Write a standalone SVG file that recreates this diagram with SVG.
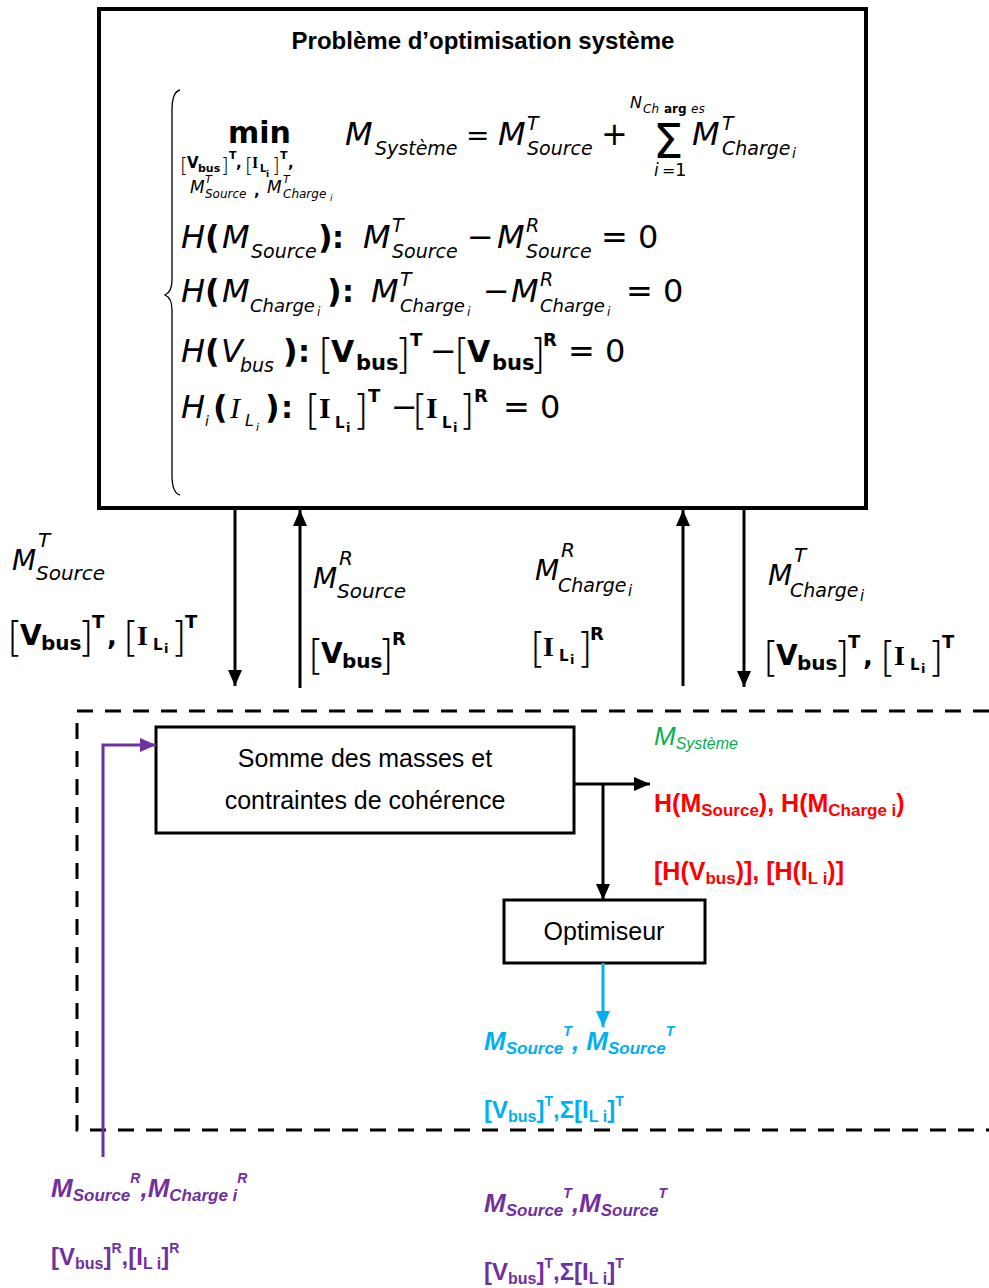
<svg xmlns="http://www.w3.org/2000/svg" width="989" height="1288" viewBox="0 0 989 1288">
<style>
.mi{font-family:"DejaVu Sans",sans-serif;font-style:italic}
.ms{font-family:"DejaVu Sans",sans-serif;font-style:italic}
.mr{font-family:"DejaVu Sans",sans-serif}
.mb{font-family:"DejaVu Sans",sans-serif;font-weight:bold}
.br{font-family:"DejaVu Sans",sans-serif;font-weight:300}
.se{font-family:"Liberation Serif",serif;font-weight:bold}
.si{font-family:"Liberation Serif",serif;font-style:italic}
.lb{font-family:"Liberation Sans",sans-serif;font-weight:bold}
.lr{font-family:"Liberation Sans",sans-serif}
.red{fill:#FF0000}.blue{fill:#00B0F0}.pur{fill:#7030A0}.grn{fill:#00B050}
.box{fill:#fff;stroke:#000;stroke-width:3}
</style>
<defs>
<marker id="ah" markerWidth="16" markerHeight="14" refX="16" refY="7" orient="auto" markerUnits="userSpaceOnUse"><path d="M0,0 L16,7 L0,14 z" fill="#000"/></marker>
<marker id="ahb" markerWidth="16" markerHeight="14" refX="16" refY="7" orient="auto" markerUnits="userSpaceOnUse"><path d="M0,0 L16,7 L0,14 z" fill="#00B0F0"/></marker>
<marker id="ahp" markerWidth="16" markerHeight="14" refX="16" refY="7" orient="auto" markerUnits="userSpaceOnUse"><path d="M0,0 L16,7 L0,14 z" fill="#7030A0"/></marker>
</defs>

<g id="probleme">
<rect x="99" y="9" width="767" height="499" fill="#fff" stroke="#000" stroke-width="4"/>
<text x="483" y="49" text-anchor="middle" class="lb" font-size="24">Problème d’optimisation système</text>
<path d="M180,90 Q172,92 172,110 L172,280 Q172,292 165,295 Q172,298 172,310 L172,475 Q172,493 180,495" fill="none" stroke="#000" stroke-width="1.3"/>
<!-- line 1 -->
<text x="228" y="143" class="mb" font-size="30">min</text>
<text x="180" y="172" class="br" font-size="20">[</text>
<text x="187" y="168" class="mb" font-size="15">V</text>
<text x="198" y="172" class="mb" font-size="11">bus</text>
<text x="221" y="172" class="br" font-size="20">]</text>
<text x="229" y="159" class="mb" font-size="11">T</text>
<text x="236" y="168" class="mb" font-size="15">,</text>
<text x="245" y="172" class="br" font-size="20">[</text>
<text x="252" y="168" class="se" font-size="16">I</text>
<text x="260" y="172" class="mb" font-size="10">L</text>
<text x="266" y="177" class="mb" font-size="9">i</text>
<text x="272" y="172" class="br" font-size="20">]</text>
<text x="280" y="159" class="mb" font-size="11">T</text>
<text x="288" y="168" class="mb" font-size="15">,</text>
<text x="190" y="193" class="mi" font-size="17">M</text>
<text x="205" y="183" class="ms" font-size="11">T</text>
<text x="205" y="198" class="ms" font-size="12">Source</text>
<text x="254" y="196" class="mb" font-size="15">,</text>
<text x="267" y="193" class="mi" font-size="17">M</text>
<text x="283" y="183" class="ms" font-size="11">T</text>
<text x="283" y="198" class="ms" font-size="12">Charge</text>
<text x="330" y="201" class="ms" font-size="9">i</text>
<text x="345" y="145" class="mi" font-size="32">M</text>
<text x="375" y="155" class="ms" font-size="19">Système</text>
<text x="466" y="145" class="mr" font-size="28">=</text>
<text x="498" y="145" class="mi" font-size="32">M</text>
<text x="527" y="130" class="ms" font-size="19">T</text>
<text x="527" y="155" class="ms" font-size="19">Source</text>
<text x="601" y="145" class="mr" font-size="32">+</text>
<text x="653" y="158" class="mr" font-size="48">Σ</text>
<text x="630" y="108" class="ms" font-size="16">N</text>
<text x="643" y="113" class="ms" font-size="12">Ch</text>
<text x="664" y="113" class="mb" font-size="12">arg</text>
<text x="691" y="113" class="ms" font-size="12">es</text>
<text x="654" y="176" class="ms" font-size="17">i</text>
<text x="662" y="176" class="mr" font-size="16">=</text>
<text x="675" y="176" class="mr" font-size="18">1</text>
<text x="692" y="145" class="mi" font-size="32">M</text>
<text x="722" y="130" class="ms" font-size="19">T</text>
<text x="722" y="155" class="ms" font-size="19">Charge</text>
<text x="792" y="158" class="ms" font-size="14">i</text>
<!-- line 2 -->
<text x="181" y="248" class="mi" font-size="32">H</text>
<text x="205" y="248" class="mb" font-size="32">(</text>
<text x="222" y="248" class="mi" font-size="32">M</text>
<text x="251" y="258" class="ms" font-size="19">Source</text>
<text x="318" y="248" class="mb" font-size="32">)</text>
<text x="332" y="248" class="mb" font-size="30">:</text>
<text x="363" y="248" class="mi" font-size="32">M</text>
<text x="392" y="232" class="ms" font-size="19">T</text>
<text x="392" y="258" class="ms" font-size="19">Source</text>
<text x="467" y="248" class="mr" font-size="32">−</text>
<text x="497" y="248" class="mi" font-size="32">M</text>
<text x="526" y="232" class="ms" font-size="19">R</text>
<text x="526" y="258" class="ms" font-size="19">Source</text>
<text x="601" y="248" class="mr" font-size="32">= 0</text>
<!-- line 3 -->
<text x="181" y="302" class="mi" font-size="32">H</text>
<text x="205" y="302" class="mb" font-size="32">(</text>
<text x="222" y="302" class="mi" font-size="32">M</text>
<text x="250" y="312" class="ms" font-size="18">Charge</text>
<text x="317" y="316" class="ms" font-size="12">i</text>
<text x="327" y="302" class="mb" font-size="32">)</text>
<text x="342" y="302" class="mb" font-size="30">:</text>
<text x="371" y="302" class="mi" font-size="32">M</text>
<text x="400" y="286" class="ms" font-size="19">T</text>
<text x="400" y="312" class="ms" font-size="18">Charge</text>
<text x="467" y="316" class="ms" font-size="12">i</text>
<text x="483" y="302" class="mr" font-size="32">−</text>
<text x="511" y="302" class="mi" font-size="32">M</text>
<text x="540" y="286" class="ms" font-size="19">R</text>
<text x="540" y="312" class="ms" font-size="18">Charge</text>
<text x="607" y="316" class="ms" font-size="12">i</text>
<text x="626" y="302" class="mr" font-size="32">= 0</text>
<!-- line 4 -->
<text x="181" y="362" class="mi" font-size="32">H</text>
<text x="205" y="362" class="mb" font-size="32">(</text>
<text x="221" y="362" class="mi" font-size="32">V</text>
<text x="240" y="372" class="ms" font-size="19">bus</text>
<text x="283" y="362" class="mb" font-size="32">)</text>
<text x="298" y="362" class="mb" font-size="30">:</text>
<text x="318" y="368" class="br" font-size="40">[</text>
<text x="331" y="362" class="mb" font-size="30">V</text>
<text x="356" y="370" class="mb" font-size="21">bus</text>
<text x="395" y="368" class="br" font-size="40">]</text>
<text x="410" y="346" class="mb" font-size="18">T</text>
<text x="430" y="362" class="mr" font-size="32">−</text>
<text x="454" y="368" class="br" font-size="40">[</text>
<text x="467" y="362" class="mb" font-size="30">V</text>
<text x="492" y="370" class="mb" font-size="21">bus</text>
<text x="530" y="368" class="br" font-size="40">]</text>
<text x="543" y="346" class="mb" font-size="18">R</text>
<text x="568" y="362" class="mr" font-size="32">= 0</text>
<!-- line 5 -->
<text x="181" y="418" class="mi" font-size="32">H</text>
<text x="205" y="426" class="ms" font-size="14">i</text>
<text x="213" y="418" class="mb" font-size="32">(</text>
<text x="230" y="418" class="si" font-size="30">I</text>
<text x="245" y="426" class="ms" font-size="16">L</text>
<text x="256" y="431" class="ms" font-size="11">i</text>
<text x="265" y="418" class="mb" font-size="32">)</text>
<text x="281" y="418" class="mb" font-size="30">:</text>
<text x="305" y="424" class="br" font-size="40">[</text>
<text x="319" y="418" class="se" font-size="30">I</text>
<text x="335" y="428" class="mb" font-size="15">L</text>
<text x="346" y="432" class="mb" font-size="13">i</text>
<text x="353" y="424" class="br" font-size="40">]</text>
<text x="368" y="402" class="mb" font-size="18">T</text>
<text x="391" y="418" class="mr" font-size="32">−</text>
<text x="412" y="424" class="br" font-size="40">[</text>
<text x="426" y="418" class="se" font-size="30">I</text>
<text x="442" y="428" class="mb" font-size="15">L</text>
<text x="453" y="432" class="mb" font-size="13">i</text>
<text x="459" y="424" class="br" font-size="40">]</text>
<text x="474" y="402" class="mb" font-size="18">R</text>
<text x="503" y="418" class="mr" font-size="32">= 0</text>
</g>

<g id="label-source-T">
<text x="12" y="570" class="mi" font-size="28">M</text>
<text x="38" y="547" class="ms" font-size="20">T</text>
<text x="36" y="580" class="ms" font-size="20">Source</text>
<text x="7" y="651" class="br" font-size="40">[</text>
<text x="20" y="645" class="mb" font-size="28">V</text>
<text x="41" y="650" class="mb" font-size="20">bus</text>
<text x="78" y="651" class="br" font-size="40">]</text>
<text x="92" y="628" class="mb" font-size="18">T</text>
<text x="107" y="645" class="mb" font-size="26">,</text>
<text x="123" y="651" class="br" font-size="40">[</text>
<text x="137" y="645" class="se" font-size="28">I</text>
<text x="153" y="650" class="mb" font-size="15">L</text>
<text x="164" y="653" class="mb" font-size="13">i</text>
<text x="171" y="651" class="br" font-size="40">]</text>
<text x="185" y="628" class="mb" font-size="18">T</text>
</g>
<g id="label-source-R">
<text x="313" y="588" class="mi" font-size="28">M</text>
<text x="339" y="565" class="ms" font-size="20">R</text>
<text x="337" y="598" class="ms" font-size="20">Source</text>
<text x="308" y="669" class="br" font-size="40">[</text>
<text x="321" y="663" class="mb" font-size="28">V</text>
<text x="342" y="668" class="mb" font-size="20">bus</text>
<text x="378" y="669" class="br" font-size="40">]</text>
<text x="392" y="645" class="mb" font-size="18">R</text>
</g>
<g id="label-charge-R">
<text x="535" y="580" class="mi" font-size="28">M</text>
<text x="561" y="557" class="ms" font-size="20">R</text>
<text x="558" y="592" class="ms" font-size="19">Charge</text>
<text x="628" y="596" class="ms" font-size="15">i</text>
<text x="530" y="662" class="br" font-size="40">[</text>
<text x="543" y="656" class="se" font-size="28">I</text>
<text x="559" y="661" class="mb" font-size="15">L</text>
<text x="570" y="664" class="mb" font-size="13">i</text>
<text x="577" y="662" class="br" font-size="40">]</text>
<text x="590" y="640" class="mb" font-size="18">R</text>
</g>
<g id="label-charge-T">
<text x="768" y="585" class="mi" font-size="28">M</text>
<text x="794" y="562" class="ms" font-size="20">T</text>
<text x="790" y="597" class="ms" font-size="19">Charge</text>
<text x="860" y="601" class="ms" font-size="15">i</text>
<text x="763" y="671" class="br" font-size="40">[</text>
<text x="776" y="665" class="mb" font-size="28">V</text>
<text x="797" y="670" class="mb" font-size="20">bus</text>
<text x="834" y="671" class="br" font-size="40">]</text>
<text x="848" y="648" class="mb" font-size="18">T</text>
<text x="863" y="665" class="mb" font-size="26">,</text>
<text x="880" y="671" class="br" font-size="40">[</text>
<text x="894" y="665" class="se" font-size="28">I</text>
<text x="910" y="670" class="mb" font-size="15">L</text>
<text x="921" y="673" class="mb" font-size="13">i</text>
<text x="928" y="671" class="br" font-size="40">]</text>
<text x="942" y="648" class="mb" font-size="18">T</text>
</g>

<g id="frontiere">
<path d="M989,711 L77,711 L77,1130 L989,1130" fill="none" stroke="#000" stroke-width="3" stroke-dasharray="16 12"/>
</g>

<g id="somme">
<rect x="156" y="727" width="418" height="106" class="box"/>
<text x="365" y="767" text-anchor="middle" class="lr" font-size="25">Somme des masses et</text>
<text x="365" y="809" text-anchor="middle" class="lr" font-size="25">contraintes de cohérence</text>
</g>
<g id="optimiseur">
<rect x="504" y="900" width="201" height="63" class="box"/>
<text x="604" y="940" text-anchor="middle" class="lr" font-size="25">Optimiseur</text>
</g>

<g id="connectors" fill="none" stroke-width="3">
<line x1="235" y1="508" x2="235" y2="686" stroke="#000" marker-end="url(#ah)"/>
<line x1="300" y1="688" x2="300" y2="510" stroke="#000" marker-end="url(#ah)"/>
<line x1="683" y1="686" x2="683" y2="510" stroke="#000" marker-end="url(#ah)"/>
<line x1="744" y1="508" x2="744" y2="687" stroke="#000" marker-end="url(#ah)"/>
<line x1="574" y1="784" x2="650" y2="784" stroke="#000" marker-end="url(#ah)"/>
<line x1="603" y1="784" x2="603" y2="900" stroke="#000" marker-end="url(#ah)"/>
<line x1="603" y1="963" x2="603" y2="1027" stroke="#00B0F0" marker-end="url(#ahb)"/>
<polyline points="103,1157 103,745 156,745" stroke="#7030A0" marker-end="url(#ahp)"/>
</g>

<g id="sorties">
<text x="654" y="745" class="lr grn" font-size="26" font-style="italic">M<tspan font-size="16" dy="4">Système</tspan></text>
<text x="654" y="812" class="lb red" font-size="25">H(M<tspan font-size="17" dy="4">Source</tspan><tspan dy="-4">), H(M</tspan><tspan font-size="17" dy="4">Charge i</tspan><tspan dy="-4">)</tspan></text>
<text x="654" y="880" class="lb red" font-size="25">[H(V<tspan font-size="17" dy="4">bus</tspan><tspan dy="-4">)], [H(I</tspan><tspan font-size="17" dy="4">L i</tspan><tspan dy="-4">)]</tspan></text>
<text x="484" y="1050" class="lb blue" font-size="26" font-style="italic">M<tspan font-size="17" dy="4">Source</tspan><tspan font-size="14" dy="-18">T</tspan><tspan dy="14">, M</tspan><tspan font-size="17" dy="4">Source</tspan><tspan font-size="14" dy="-18">T</tspan></text>
<text x="484" y="1118" class="lb blue" font-size="24">[V<tspan font-size="16" dy="4">bus</tspan><tspan dy="-4">]</tspan><tspan font-size="14" dy="-12">T</tspan><tspan dy="12">,Σ[I</tspan><tspan font-size="16" dy="4">L i</tspan><tspan dy="-4">]</tspan><tspan font-size="14" dy="-12">T</tspan></text>
<text x="51" y="1197" class="lb pur" font-size="26" font-style="italic">M<tspan font-size="17" dy="4">Source</tspan><tspan font-size="14" dy="-18">R</tspan><tspan dy="14">,M</tspan><tspan font-size="17" dy="4">Charge i</tspan><tspan font-size="14" dy="-18">R</tspan></text>
<text x="51" y="1265" class="lb pur" font-size="24">[V<tspan font-size="16" dy="4">bus</tspan><tspan dy="-4">]</tspan><tspan font-size="14" dy="-12">R</tspan><tspan dy="12">,[I</tspan><tspan font-size="16" dy="4">L i</tspan><tspan dy="-4">]</tspan><tspan font-size="14" dy="-12">R</tspan></text>
<text x="484" y="1212" class="lb pur" font-size="26" font-style="italic">M<tspan font-size="17" dy="4">Source</tspan><tspan font-size="14" dy="-18">T</tspan><tspan dy="14">,M</tspan><tspan font-size="17" dy="4">Source</tspan><tspan font-size="14" dy="-18">T</tspan></text>
<text x="484" y="1280" class="lb pur" font-size="24">[V<tspan font-size="16" dy="4">bus</tspan><tspan dy="-4">]</tspan><tspan font-size="14" dy="-12">T</tspan><tspan dy="12">,Σ[I</tspan><tspan font-size="16" dy="4">L i</tspan><tspan dy="-4">]</tspan><tspan font-size="14" dy="-12">T</tspan></text>
</g>
</svg>
